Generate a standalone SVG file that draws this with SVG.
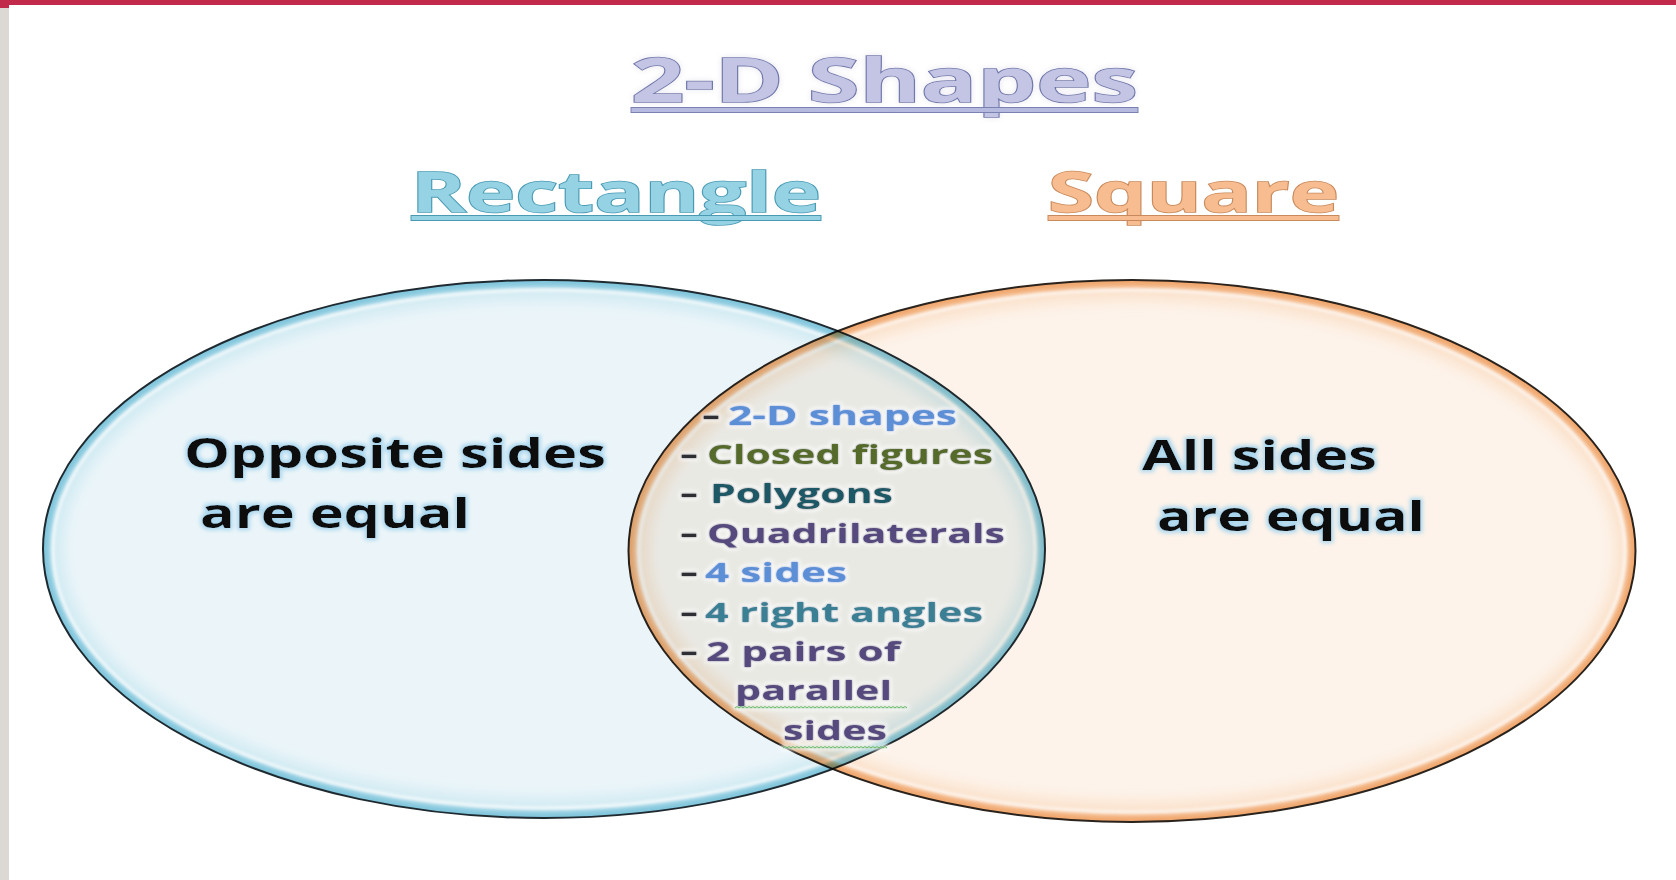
<svg xmlns="http://www.w3.org/2000/svg" width="1676" height="880" viewBox="0 0 1676 880">
<style>
.t{font-family:"Open Sans","Liberation Sans",sans-serif;font-weight:700}
.head{stroke-width:1.6;paint-order:stroke}
.big{font-size:42px;fill:#0b0b0f}
.lst{font-size:27px}
.dash{fill:#2e2e34}
</style>
<defs>
<clipPath id="cL"><ellipse cx="544" cy="549" rx="501" ry="269"/></clipPath>
<clipPath id="cR"><ellipse cx="1132" cy="551" rx="503.5" ry="271"/></clipPath>
<filter id="rim" x="-10%" y="-10%" width="120%" height="120%"><feGaussianBlur stdDeviation="3"/></filter>
<filter id="rim2" x="-10%" y="-10%" width="120%" height="120%"><feGaussianBlur stdDeviation="7"/></filter>
<filter id="hl" x="-10%" y="-10%" width="120%" height="120%"><feGaussianBlur stdDeviation="1.5"/></filter>
<filter id="glowB" x="-10%" y="-30%" width="120%" height="160%">
<feMorphology in="SourceAlpha" operator="dilate" radius="2" result="d"/>
<feGaussianBlur in="d" stdDeviation="2" result="b"/>
<feFlood flood-color="#a9d6ee"/>
<feComposite in2="b" operator="in" result="g"/>
<feMerge><feMergeNode in="g"/><feMergeNode in="SourceGraphic"/></feMerge>
</filter>
<filter id="glowW" x="-10%" y="-30%" width="120%" height="160%">
<feMorphology in="SourceAlpha" operator="dilate" radius="1.5" result="d"/>
<feGaussianBlur in="d" stdDeviation="2" result="b"/>
<feFlood flood-color="#ffffff" flood-opacity="0.9"/>
<feComposite in2="b" operator="in" result="g"/>
<feGaussianBlur in="SourceGraphic" stdDeviation="1" result="s"/>
<feMerge><feMergeNode in="g"/><feMergeNode in="s"/><feMergeNode in="SourceGraphic"/></feMerge>
</filter>
<filter id="soft" x="-5%" y="-20%" width="110%" height="140%">
<feGaussianBlur in="SourceAlpha" stdDeviation="3" result="b"/>
<feFlood flood-color="#e8e8f2"/>
<feComposite in2="b" operator="in" result="g"/>
<feMerge><feMergeNode in="g"/><feMergeNode in="SourceGraphic"/></feMerge>
</filter>
</defs>
<rect width="1676" height="880" fill="#ffffff"/>
<rect x="0" y="0" width="1676" height="5" fill="#c12a4b"/>
<rect x="0" y="5" width="9" height="875" fill="#dcd8d3"/>
<rect x="0" y="5" width="9" height="3" fill="#c12a4b"/>

<g id="title">
<text class="t head" x="631" y="102" font-size="61" textLength="507" lengthAdjust="spacingAndGlyphs" fill="#c4c4e4" stroke="#6f77aa" filter="url(#soft)">2-D Shapes</text>
<rect x="631" y="107.5" width="507" height="5" fill="#b6badf" stroke="#7a82b4" stroke-width="1"/>
</g>

<g id="node-square">
<ellipse cx="1132" cy="551" rx="503.5" ry="271" fill="#fdf3ea"/>
<ellipse cx="1132" cy="551" rx="503.5" ry="271" fill="none" stroke="#fbe2cc" stroke-width="40" filter="url(#rim2)" clip-path="url(#cR)"/>
<ellipse cx="1132" cy="551" rx="503.5" ry="271" fill="none" stroke="#f0a66c" stroke-width="14" filter="url(#rim)" clip-path="url(#cR)"/>
<ellipse cx="1132" cy="551" rx="493" ry="261" fill="none" stroke="#ffffff" stroke-opacity="0.8" stroke-width="3" filter="url(#hl)"/>
<ellipse cx="1132" cy="551" rx="503.5" ry="271" fill="none" stroke="#2a221c" stroke-width="2"/>
<text class="t head" x="1048" y="212" font-size="56" textLength="291" lengthAdjust="spacingAndGlyphs" fill="#f7bd90" stroke="#c88a5c">Square</text>
<rect x="1048" y="215.5" width="291" height="5" fill="#f7bd90" stroke="#c88a5c" stroke-width="1"/>
</g>

<g id="node-rectangle">
<g style="mix-blend-mode:multiply">
<ellipse cx="544" cy="549" rx="501" ry="269" fill="#ebf5f9"/>
<ellipse cx="544" cy="549" rx="501" ry="269" fill="none" stroke="#d2ebf3" stroke-width="40" filter="url(#rim2)" clip-path="url(#cL)"/>
<ellipse cx="544" cy="549" rx="501" ry="269" fill="none" stroke="#7fc5dc" stroke-width="14" filter="url(#rim)" clip-path="url(#cL)"/>
<ellipse cx="544" cy="549" rx="491" ry="259" fill="none" stroke="#ffffff" stroke-opacity="0.85" stroke-width="3" filter="url(#hl)"/>
<ellipse cx="544" cy="549" rx="501" ry="269" fill="none" stroke="#1f2a30" stroke-width="2"/>
</g>
<text class="t head" x="411" y="212" font-size="56" textLength="410" lengthAdjust="spacingAndGlyphs" fill="#94d2e4" stroke="#4a9ab4">Rectangle</text>
<rect x="411" y="215.5" width="410" height="5" fill="#94d2e4" stroke="#4a9ab4" stroke-width="1"/>
<text class="t big" x="184" y="468" textLength="422" lengthAdjust="spacingAndGlyphs" filter="url(#glowB)">Opposite sides</text>
<text class="t big" x="200" y="528" textLength="270" lengthAdjust="spacingAndGlyphs" filter="url(#glowB)">are equal</text>
</g>

<g id="node-square-text">
<text class="t big" x="1142" y="470" textLength="235" lengthAdjust="spacingAndGlyphs" filter="url(#glowB)">All sides</text>
<text class="t big" x="1157" y="531" textLength="268" lengthAdjust="spacingAndGlyphs" filter="url(#glowB)">are equal</text>
</g>

<g id="node-overlap" filter="url(#glowW)">
<text class="t lst dash" x="702" y="425" textLength="18" lengthAdjust="spacingAndGlyphs">-</text>
<text class="t lst" x="728" y="425" textLength="229" lengthAdjust="spacingAndGlyphs" fill="#5b8fd6">2-D shapes</text>
<text class="t lst dash" x="680" y="464" textLength="18" lengthAdjust="spacingAndGlyphs">-</text>
<text class="t lst" x="707" y="464" textLength="286" lengthAdjust="spacingAndGlyphs" fill="#566b2c">Closed figures</text>
<text class="t lst dash" x="680" y="503" textLength="18" lengthAdjust="spacingAndGlyphs">-</text>
<text class="t lst" x="710" y="503" textLength="183" lengthAdjust="spacingAndGlyphs" fill="#1d5866">Polygons</text>
<text class="t lst dash" x="680" y="543" textLength="18" lengthAdjust="spacingAndGlyphs">-</text>
<text class="t lst" x="707" y="543" textLength="298" lengthAdjust="spacingAndGlyphs" fill="#574a7e">Quadrilaterals</text>
<text class="t lst dash" x="680" y="582" textLength="18" lengthAdjust="spacingAndGlyphs">-</text>
<text class="t lst" x="705" y="582" textLength="142" lengthAdjust="spacingAndGlyphs" fill="#5b8fd6">4 sides</text>
<text class="t lst dash" x="680" y="622" textLength="18" lengthAdjust="spacingAndGlyphs">-</text>
<text class="t lst" x="705" y="622" textLength="278" lengthAdjust="spacingAndGlyphs" fill="#3b7f95">4 right angles</text>
<text class="t lst dash" x="680" y="661" textLength="18" lengthAdjust="spacingAndGlyphs">-</text>
<text class="t lst" x="706" y="661" textLength="194" lengthAdjust="spacingAndGlyphs" fill="#574a7e">2 pairs of</text>
<text class="t lst" x="735" y="700" textLength="157" lengthAdjust="spacingAndGlyphs" fill="#574a7e">parallel</text>
<text class="t lst" x="783" y="740" textLength="104" lengthAdjust="spacingAndGlyphs" fill="#574a7e">sides</text>
<path d="M735 708 l2 -1.5 l2 1.5 l2 -1.5 l2 1.5 l2 -1.5 l2 1.5 l2 -1.5 l2 1.5 l2 -1.5 l2 1.5 l2 -1.5 l2 1.5 l2 -1.5 l2 1.5 l2 -1.5 l2 1.5 l2 -1.5 l2 1.5 l2 -1.5 l2 1.5 l2 -1.5 l2 1.5 l2 -1.5 l2 1.5 l2 -1.5 l2 1.5 l2 -1.5 l2 1.5 l2 -1.5 l2 1.5 l2 -1.5 l2 1.5 l2 -1.5 l2 1.5 l2 -1.5 l2 1.5 l2 -1.5 l2 1.5 l2 -1.5 l2 1.5 l2 -1.5 l2 1.5 l2 -1.5 l2 1.5 l2 -1.5 l2 1.5 l2 -1.5 l2 1.5 l2 -1.5 l2 1.5 l2 -1.5 l2 1.5 l2 -1.5 l2 1.5 l2 -1.5 l2 1.5 l2 -1.5 l2 1.5 l2 -1.5 l2 1.5 l2 -1.5 l2 1.5 l2 -1.5 l2 1.5 l2 -1.5 l2 1.5 l2 -1.5 l2 1.5 l2 -1.5 l2 1.5 l2 -1.5 l2 1.5 l2 -1.5 l2 1.5 l2 -1.5 l2 1.5 l2 -1.5 l2 1.5 l2 -1.5 l2 1.5 l2 -1.5 l2 1.5 l2 -1.5 l2 1.5 l2 -1.5 l2 1.5" fill="none" stroke="#5cb85c" stroke-width="1"/>
<path d="M783 748 l2 -1.5 l2 1.5 l2 -1.5 l2 1.5 l2 -1.5 l2 1.5 l2 -1.5 l2 1.5 l2 -1.5 l2 1.5 l2 -1.5 l2 1.5 l2 -1.5 l2 1.5 l2 -1.5 l2 1.5 l2 -1.5 l2 1.5 l2 -1.5 l2 1.5 l2 -1.5 l2 1.5 l2 -1.5 l2 1.5 l2 -1.5 l2 1.5 l2 -1.5 l2 1.5 l2 -1.5 l2 1.5 l2 -1.5 l2 1.5 l2 -1.5 l2 1.5 l2 -1.5 l2 1.5 l2 -1.5 l2 1.5 l2 -1.5 l2 1.5 l2 -1.5 l2 1.5 l2 -1.5 l2 1.5 l2 -1.5 l2 1.5 l2 -1.5 l2 1.5 l2 -1.5 l2 1.5 l2 -1.5 l2 1.5" fill="none" stroke="#5cb85c" stroke-width="1"/>
</g>
<g id="connectors"/>
</svg>
